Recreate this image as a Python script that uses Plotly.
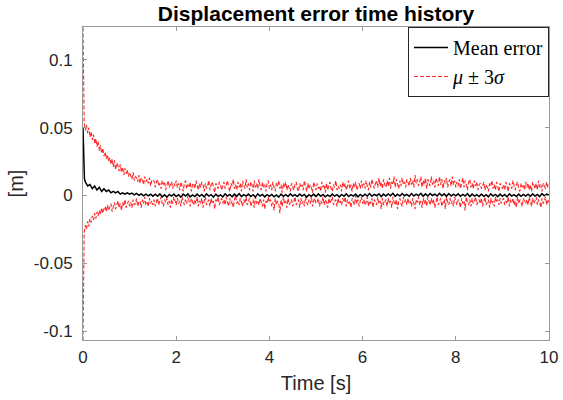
import numpy as np
import plotly.graph_objects as go

# ---- time samples [s] ----
t_band = [0.0, 0.005, 0.01, 0.015, 0.02] + np.round(np.arange(0.025, 10.0001, 0.025), 3).tolist()
t_mean = [0.0, 0.01, 0.02, 0.03, 0.04] + np.round(np.arange(0.05, 10.0001, 0.05), 2).tolist()

# ---- values in millimetres (converted to metres below) ----
upper_mm = [124, 100, 80, 66, 58,
    54, 48, 52, 46, 50, 43, 47, 41, 45, 38, 42, 36, 40, 33, 37, 31, 35, 29, 32, 27,
    30, 25, 28, 23, 27, 21, 26, 19, 24, 22, 18, 23, 17, 21, 15, 20, 16, 19, 14, 17,
    15, 12, 17, 11, 14, 13, 10, 15, 9, 13, 12, 8, 14, 10, 12, 9, 13, 7, 11, 10,
    11, 6, 10, 12, 7, 9, 5, 11, 8, 10, 4, 9, 11, 6, 8, 10, 5, 9, 7, 11,
    6, 9, 4, 10, 7, 3, 9, 11, 5, 8, 6, 10, 3, 8, 9, 5, 11, 7, 4, 9,
    6, 10, 8, 3, 9, 5, 7, 11, 4, 8, 10, 6, 2, 9, 7, 5, 10, 8, 4, 7,
    10, 5, 8, 11, 6, 3, 9, 7, 12, 5, 8, 4, 10, 6, 9, 3, 11, 7, 5, 12,
    6, 9, 4, 10, 8, 3, 11, 6, 9, 5, 12, 7, 4, 10, 6, 8, 3, 9, 11, 5,
    8, 4, 10, 6, 3, 9, 7, 11, 5, 8, 2, 9, 6, 10, 4, 8, 5, 3, 9, 6,
    4, 8, 10, 5, 3, 9, 6, 8, 4, 11, 7, 3, 9, 5, 8, 6, 2, 10, 7, 4,
    9, 5, 7, 3, 10, 6, 8, 2, 9, 4, 7, 10, 5, 3, 8, 6, 11, 4, 7, 5,
    8, 3, 10, 6, 9, 4, 7, 11, 5, 8, 3, 9, 6, 10, 4, 7, 9, 5, 11, 6,
    9, 5, 11, 7, 4, 10, 6, 12, 8, 5, 9, 11, 6, 13, 7, 10, 5, 12, 8, 6,
    11, 7, 13, 5, 10, 8, 14, 6, 12, 9, 5, 11, 7, 13, 8, 10, 6, 12, 9, 7,
    13, 8, 11, 6, 15, 9, 12, 7, 10, 14, 6, 11, 8, 13, 5, 12, 9, 7, 14, 8,
    11, 6, 13, 9, 7, 14, 8, 12, 5, 11, 9, 13, 6, 10, 12, 7, 14, 8, 11, 6,
    10, 7, 12, 5, 9, 13, 6, 11, 8, 4, 10, 12, 6, 9, 5, 11, 7, 10, 4, 8,
    9, 5, 7, 10, 4, 8, 6, 3, 9, 7, 11, 5, 8, 4, 10, 6, 3, 9, 7, 5,
    8, 4, 10, 6, 3, 9, 7, 5, 11, 6, 4, 8, 10, 5, 3, 9, 6, 8, 4, 10,
    6, 9, 4, 8, 3, 10, 7, 5, 9, 4, 11, 6, 8, 3, 9, 7, 5, 10, 6, 8]

lower_mm = [-107, -85, -62, -45, -35,
    -28, -22, -25, -19, -23, -17, -20, -15, -18, -13, -17, -12, -15, -11, -14, -9, -13, -10, -8, -12,
    -7, -11, -9, -6, -12, -8, -5, -10, -7, -4, -9, -6, -11, -5, -8, -3, -9, -6, -4, -8,
    -5, -9, -3, -7, -6, -2, -8, -5, -4, -9, -3, -6, -1, -7, -5, -8, -2, -6, -4, -7,
    -3, -8, -5, -2, -7, -4, -1, -6, -8, -3, -5, -2, -7, -4, -9, -3, -6, -1, -5, -7,
    -2, -6, -4, -8, -1, -5, -7, -3, -6, 0, -5, -8, -2, -4, -7, -3, -6, -1, -8, -4,
    -6, -2, -9, -4, -1, -7, -5, -3, -8, -2, -6, -4, -10, -3, -5, -1, -7, -4, -2, -6,
    -3, -7, -1, -5, -8, -2, -6, -4, -9, -3, 0, -6, -4, -7, -2, -5, -8, -3, -6, -1,
    -7, -4, -2, -8, -5, -3, -9, -1, -6, -4, -7, -2, -5, -8, -3, -10, -4, -6, -1, -5,
    -3, -8, -5, -11, -2, -7, -4, -6, -13, -3, -8, -1, -6, -4, -9, -2, -7, -5, -3, -8,
    -4, -1, -7, -5, -3, -9, -2, -6, -4, -8, -1, -5, -7, -3, -6, 0, -8, -4, -2, -6,
    -5, -2, -8, -4, -6, -1, -7, -3, -5, -9, -2, -6, -4, -1, -7, -5, -3, -8, -2, -6,
    -4, -7, -2, -5, -1, -8, -3, -6, -4, -9, -2, -5, -7, 0, -6, -3, -8, -4, -1, -6,
    -3, -7, -5, -1, -8, -4, -6, -2, -9, -3, -5, -7, -1, -6, -4, -10, -2, -7, -5, -3,
    -8, -2, -6, -4, -9, -1, -5, -7, -3, -10, -4, -2, -6, -8, -1, -5, -3, -7, -2, -6,
    -4, -8, -2, -6, -10, -3, -5, -1, -7, -4, -9, -2, -6, -3, -8, -1, -5, -7, -2, -6,
    -3, -9, -5, -1, -7, -4, -2, -8, -6, -3, -10, -1, -5, -7, -2, -6, -4, -8, -1, -5,
    -7, -3, -5, -9, -2, -6, -4, -11, -1, -5, -7, -3, -8, -2, -6, -4, -1, -7, -5, -3,
    -6, -2, -8, -4, -1, -7, -5, -3, -9, -2, -6, -4, -8, -1, -5, -3, -7, -2, -6, -4,
    -2, -7, -4, -6, -1, -8, -3, -5, -2, -7, -4, -9, -1, -6, -3, -5, -8, -2, -4, -6,
    -3, -7, -1, -5, -8, -2, -6, -4, -1, -7, -3, -5, -9, -2, -6, -4, -1, -7, -3, -5]

mean_mm = [50, 30, 18, 13, 11,
    10, 7, 8, 5, 7, 4, 6, 3, 5, 3,
    4, 2, 3, 2, 3, 1, 2, 1, 2, 1,
    1.8, 0.4, 1.5, 0.2, 1.2, -0.2, 1.0, -0.3, 0.9, -0.5,
    1.0, -0.6, 1.2, -1.0, 0.6, -1.2, 0.8, -0.4, 1.0, -0.8,
    0.6, -1.2, 1.0, -0.4, 1.2, -1.0, 0.4, -0.8, 1.0, -0.6,
    0.8, -1.0, 1.2, -0.4, 0.6, -1.2, 1.0, -0.6, 0.4, -1.0,
    1.2, -0.4, 0.8, -1.0, 1.0, -0.6, 1.4, -0.8, 0.6, -0.4,
    1.0, -0.8, 0.6, -1.2, 1.2, -0.4, 0.8, -1.0, 0.6, -0.6,
    0.8, -1.0, 0.4, -1.2, 1.0, -0.6, 0.6, -0.8, 1.2, -0.4,
    0.6, -0.8, 1.0, -0.4, 0.8, -1.2, 0.6, -0.6, 1.0, -0.8,
    1.2, -0.6, 0.8, -1.0, 0.4, -0.8, 1.0, -0.4, 0.6, -1.0,
    0.8, -0.6, 1.2, -0.8, 0.6, -0.4, 1.0, -1.0, 0.8, -0.6,
    1.0, -0.4, 1.4, -0.6, 0.8, -0.2, 1.2, -0.8, 1.0, -0.4,
    1.2, -0.2, 1.6, -0.6, 1.0, -0.4, 1.4, -0.2, 0.8, -0.6,
    1.4, -0.4, 1.0, -0.2, 1.6, -0.6, 1.2, -0.4, 1.4, 0.0,
    1.0, -0.4, 1.6, -0.2, 1.2, -0.6, 1.4, -0.4, 1.0, -0.2,
    1.2, -0.6, 0.8, -0.4, 1.4, -0.8, 1.0, -0.4, 0.6, -0.8,
    1.0, -0.6, 0.6, -1.0, 1.2, -0.4, 0.8, -0.8, 1.0, -0.6,
    0.8, -1.0, 1.2, -0.4, 0.6, -0.8, 1.0, -0.6, 0.8, -0.4,
    1.0, -0.6, 1.2, -0.4, 0.8, -0.8, 1.4, -0.2, 1.0, 0.4]

upper_m = np.array(upper_mm) / 1000.0
lower_m = np.array(lower_mm) / 1000.0
mean_m = np.array(mean_mm) / 1000.0

x_ticks = [0, 2, 4, 6, 8, 10]
y_ticks = [-0.1, -0.05, 0, 0.05, 0.1]
y_tick_text = ["-0.1", "-0.05", "0", "0.05", "0.1"]

red = "rgba(255,0,0,0.85)"
fig = go.Figure()
fig.add_trace(go.Scatter(x=t_band, y=upper_m, mode="lines", name="<i>μ</i> ± 3<i>σ</i>",
                         line=dict(color=red, width=1.1, dash="4px,2px"), legendrank=2))
fig.add_trace(go.Scatter(x=t_band, y=lower_m, mode="lines", showlegend=False,
                         line=dict(color=red, width=1.1, dash="4px,2px")))
fig.add_trace(go.Scatter(x=t_mean, y=mean_m, mode="lines", name="Mean error",
                         line=dict(color="black", width=1.5), legendrank=1))

axcol = "#262626"
fig.update_layout(
    width=563, height=400,
    margin=dict(l=83, r=14, t=27, b=60),
    paper_bgcolor="white", plot_bgcolor="white",
    font=dict(family="Liberation Sans, Arial, sans-serif", size=17, color=axcol),
    title=dict(text="<b>Displacement error time history</b>", x=0.5, xref="paper",
               xanchor="center", y=1 - 14 / 400, yanchor="middle",
               font=dict(size=21, color="black")),
    showlegend=True,
    legend=dict(x=1, y=1, xanchor="right", yanchor="top", bgcolor="white",
                bordercolor=axcol, borderwidth=1,
                font=dict(family="Liberation Serif, Times New Roman, serif", size=20, color="black"),
                tracegroupgap=0, itemwidth=34),
)
fig.update_xaxes(range=[0, 10], tickvals=x_ticks, ticks="inside", ticklen=4, tickcolor="#999",
                 showline=True, linecolor="#999", linewidth=1, mirror="ticks", showgrid=False,
                 zeroline=False, automargin=False, ticklabelstandoff=2,
                 title=dict(text="Time [s]", standoff=9))
fig.update_yaxes(range=[-0.1066, 0.1243], tickvals=y_ticks, ticktext=y_tick_text, ticks="inside",
                 ticklen=4, tickcolor="#999", showline=True, linecolor="#999", linewidth=1,
                 mirror="ticks", showgrid=False, zeroline=False, automargin=False,
                 ticklabelstandoff=6, title=dict(text="[m]", standoff=4))

# remove the default page margin so the figure sits at the window's top-left corner
fig.write_html("out.html", config={"displayModeBar": False},
               post_script="document.body.style.margin='0';")
